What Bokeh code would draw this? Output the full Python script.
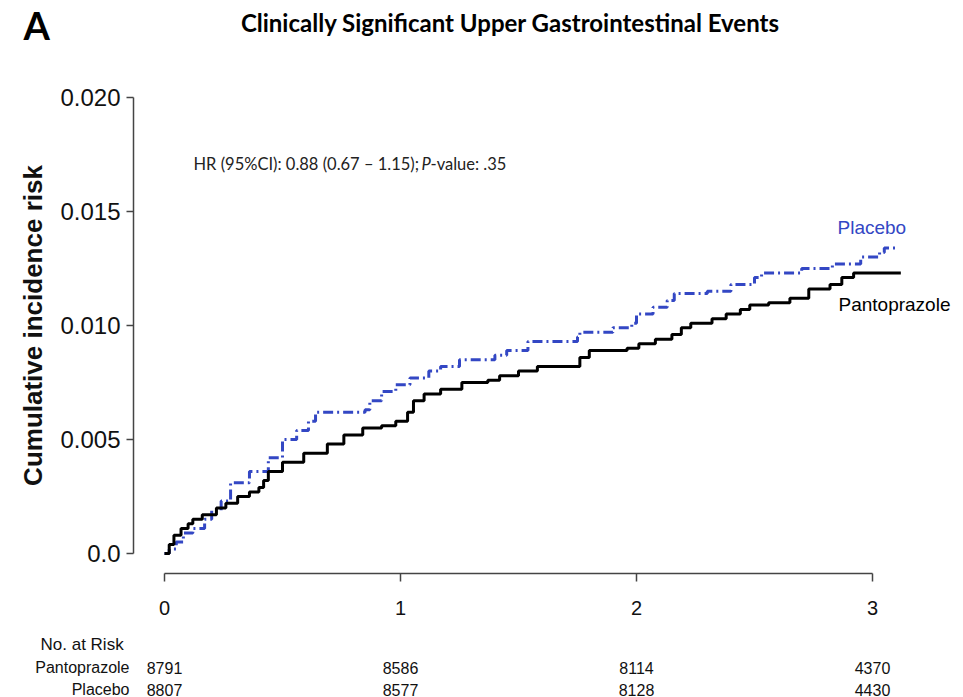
import numpy as np
from bokeh.plotting import figure
from bokeh.models import LinearAxis, Range1d, FixedTicker, ColumnDataSource
from bokeh.core.properties import value
from bokeh.embed import file_html
from bokeh.resources import INLINE

# ---------------- data ----------------
panto_t = [0.00, 0.02, 0.04, 0.07, 0.10, 0.12, 0.16, 0.22, 0.26, 0.31, 0.36, 0.40,
           0.42, 0.44, 0.50, 0.59, 0.69, 0.76, 0.84, 0.92, 0.98, 1.03, 1.055, 1.10,
           1.17, 1.26, 1.37, 1.42, 1.50, 1.58, 1.76, 1.80, 1.96, 2.01, 2.08, 2.15,
           2.19, 2.23, 2.32, 2.38, 2.44, 2.48, 2.56, 2.65, 2.73, 2.82, 2.87, 2.92, 3.12]
panto_y = [0.0000, 0.0004, 0.0008, 0.0011, 0.0013, 0.0015, 0.0017, 0.0020, 0.0022, 0.0025, 0.0027, 0.0029,
           0.0032, 0.0036, 0.0040, 0.0044, 0.0048, 0.0052, 0.0055, 0.0056, 0.0058, 0.0062, 0.0067, 0.0070,
           0.0072, 0.0075, 0.0076, 0.0078, 0.0080, 0.0082, 0.0086, 0.0089, 0.0090, 0.0092, 0.0094, 0.0096,
           0.0099, 0.0101, 0.0103, 0.0105, 0.0107, 0.0109, 0.0110, 0.0112, 0.0116, 0.0118, 0.0121, 0.0123, 0.0123]

placebo_t = [0.00, 0.02, 0.05, 0.08, 0.12, 0.17, 0.20, 0.24, 0.28, 0.36, 0.44, 0.50,
             0.56, 0.61, 0.64, 0.85, 0.87, 0.92, 0.98, 1.04, 1.12, 1.17, 1.25, 1.40,
             1.45, 1.54, 1.75, 1.76, 1.90, 1.98, 2.00, 2.07, 2.13, 2.16, 2.30, 2.40,
             2.50, 2.53, 2.70, 2.83, 2.95, 3.03, 3.05, 3.11]
placebo_y = [0.0000, 0.0002, 0.0005, 0.0009, 0.0011, 0.0015, 0.0019, 0.0023, 0.0031, 0.0036, 0.0042, 0.0050,
             0.0054, 0.0058, 0.0062, 0.0063, 0.0067, 0.0071, 0.0074, 0.0077, 0.0080, 0.0082, 0.0085, 0.0087,
             0.0089, 0.0093, 0.0095, 0.0097, 0.0099, 0.0101, 0.0105, 0.0108, 0.0111, 0.0114, 0.0115, 0.0118,
             0.0121, 0.0123, 0.0125, 0.0127, 0.0130, 0.0132, 0.0134, 0.0134]

risk_times = [0, 1, 2, 3]
risk_panto = [8791, 8586, 8114, 4370]
risk_placebo = [8807, 8577, 8128, 4430]
risk_rows = ["Pantoprazole", "Placebo"]

x_ticks = [0, 1, 2, 3]
y_ticks = [0.0, 0.005, 0.010, 0.015, 0.020]
y_tick_labels = ["0.0", "0.005", "0.010", "0.015", "0.020"]

title_text = "Clinically Significant Upper Gastrointestinal Events"
panel_text = "A"
hr_text_a = "HR (95%CI): 0.88 (0.67 \u2013 1.15);"
hr_text_p = "P"
hr_text_b = "-value: .35"
ylabel = "Cumulative incidence risk"

# ---------------- layout calibration (picture pixels) ----------------
W, H = 963, 697
X0_PX, X_PER = 164.0, 236.0
Y0_PX, Y_PER = 553.0, 22800.0


def px2x(wx):
    return (wx - X0_PX) / X_PER


def px2y(wy):
    return (Y0_PX - wy) / Y_PER


BLUE = "#3347c4"
AX_COL = "#444444"

p = figure(width=W, height=H,
           x_range=Range1d(px2x(0), px2x(W)),
           y_range=Range1d(px2y(H), px2y(0)),
           output_backend="svg", toolbar_location=None,
           x_axis_location=None, y_axis_location=None, min_border=0)
p.outline_line_color = None
p.grid.visible = False
p.background_fill_color = "white"

# axes (R style, detached)
xa = LinearAxis(fixed_location=px2y(573), bounds=(0, 3), ticker=FixedTicker(ticks=x_ticks))
xa.axis_line_color = AX_COL
xa.axis_line_width = 1.5
xa.major_tick_line_color = AX_COL
xa.major_tick_line_width = 1.5
xa.major_tick_out = 8
xa.major_tick_in = 0
xa.minor_tick_out = 0
xa.minor_tick_in = 0
xa.major_label_text_font = "Liberation Sans"
xa.major_label_text_font_size = "20px"
xa.major_label_text_color = "#111111"
xa.major_label_standoff = 19
p.add_layout(xa, "below")

ya = LinearAxis(fixed_location=px2x(133), bounds=(0, 0.02), ticker=FixedTicker(ticks=y_ticks),
                major_label_overrides={t: l for t, l in zip(y_ticks, y_tick_labels)})
ya.axis_line_color = AX_COL
ya.axis_line_width = 1.5
ya.major_tick_line_color = AX_COL
ya.major_tick_line_width = 1.5
ya.major_tick_out = 7
ya.major_tick_in = 0
ya.minor_tick_out = 0
ya.minor_tick_in = 0
ya.major_label_text_font = "Liberation Sans"
ya.major_label_text_font_size = "24px"
ya.major_label_text_color = "#111111"
ya.major_label_standoff = 6
ya.axis_label = ylabel
ya.axis_label_text_font = "Liberation Sans"
ya.axis_label_text_font_style = "bold"
ya.axis_label_text_font_size = "26px"
ya.axis_label_text_color = "#111111"
ya.axis_label_standoff = 9
p.add_layout(ya, "left")

# curves
p.step(placebo_t, placebo_y, mode="after", line_color=BLUE, line_width=3, line_dash="10 4 2 4")
p.step(panto_t, panto_y, mode="after", line_color="black", line_width=3)

# direct series labels
p.text(x=[px2x(837)], y=[px2y(227)], text=["Placebo"], text_color=BLUE,
       text_font=value("Liberation Sans"), text_font_size="19px",
       text_align="left", text_baseline="middle")
p.text(x=[px2x(838)], y=[px2y(304)], text=["Pantoprazole"], text_color="black",
       text_font=value("Liberation Sans"), text_font_size="19px",
       text_align="left", text_baseline="middle")

# titles
p.text(x=[px2x(23)], y=[px2y(24)], text=[panel_text], text_color="black",
       text_font=value("Lato"), text_font_style="bold", text_font_size="38px",
       text_align="left", text_baseline="middle")
p.text(x=[px2x(510)], y=[px2y(22)], text=[title_text], text_color="black",
       text_font=value("Lato"), text_font_style="bold", text_font_size="24px",
       text_align="center", text_baseline="middle")

# HR annotation
hr_y = px2y(163)
p.text(x=[px2x(193)], y=[hr_y], text=[hr_text_a], text_color="#222222",
       text_font=value("Lato"), text_font_size="16.5px", text_align="left", text_baseline="middle")
p.text(x=[px2x(421)], y=[hr_y], text=[hr_text_p], text_color="#222222",
       text_font=value("Lato"), text_font_style="italic", text_font_size="16.5px",
       text_align="left", text_baseline="middle")
p.text(x=[px2x(430)], y=[hr_y], text=[hr_text_b], text_color="#222222",
       text_font=value("Lato"), text_font_size="16.5px", text_align="left", text_baseline="middle")

# number at risk table
row_y = [px2y(667), px2y(689)]
p.text(x=[px2x(40)], y=[px2y(644)], text=["No. at Risk"], text_color="#111111",
       text_font=value("Liberation Sans"), text_font_size="17px",
       text_align="left", text_baseline="middle")
p.text(x=[px2x(129)] * 2, y=row_y, text=risk_rows, text_color="#111111",
       text_font=value("Liberation Sans"), text_font_size="16px",
       text_align="right", text_baseline="middle")
risk_src = ColumnDataSource(dict(
    x=risk_times + risk_times,
    y=[row_y[0]] * len(risk_times) + [row_y[1]] * len(risk_times),
    t=[str(v) for v in risk_panto] + [str(v) for v in risk_placebo],
))
p.text(x="x", y="y", text="t", source=risk_src, text_color="#111111",
       text_font=value("Liberation Sans"), text_font_size="16px",
       text_align="center", text_baseline="middle")

open("out.html", "w").write(file_html(p, INLINE))
